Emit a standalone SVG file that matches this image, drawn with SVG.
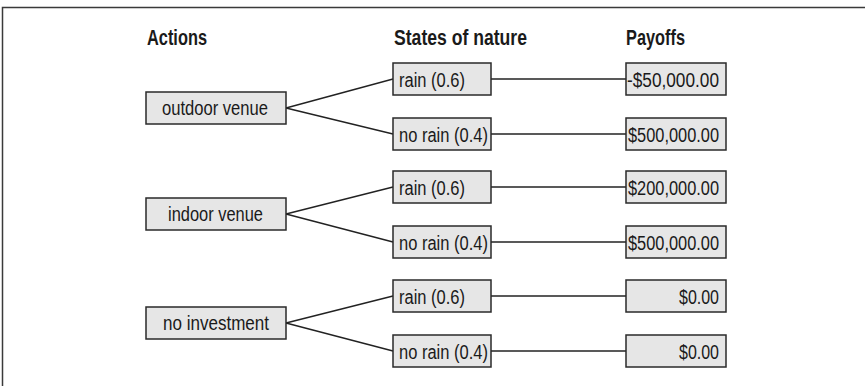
<svg xmlns="http://www.w3.org/2000/svg" width="865" height="386" viewBox="0 0 865 386">
<style>
.frame{fill:none;stroke:#3a3a3a;stroke-width:1.5}
.box{fill:#e6e6e6;stroke:#2a2a2a;stroke-width:1.5}
.conn line{stroke:#222;stroke-width:1.4}
.hdr{font-family:"Liberation Sans",Arial,sans-serif;font-weight:bold;font-size:22px;fill:#1a1a1a}
.t{font-family:"Liberation Sans",Arial,sans-serif;font-size:20px;fill:#1a1a1a}
.c{text-anchor:middle}
.r{text-anchor:end}
</style>
<rect width="865" height="386" fill="#fff"/>
<path class="frame" d="M2.5,386 V7.5 H865"/>
<g id="headers">
<text class="hdr" x="147" y="45" textLength="60" lengthAdjust="spacingAndGlyphs">Actions</text>
<text class="hdr" x="394" y="45" textLength="133" lengthAdjust="spacingAndGlyphs">States of nature</text>
<text class="hdr" x="626" y="45" textLength="59" lengthAdjust="spacingAndGlyphs">Payoffs</text>
</g>
<g class="conn" id="connectors">
<line x1="286" y1="108" x2="393" y2="79"/>
<line x1="286" y1="108" x2="393" y2="134"/>
<line x1="286" y1="214" x2="393" y2="187"/>
<line x1="286" y1="214" x2="393" y2="242"/>
<line x1="286" y1="323" x2="393" y2="296"/>
<line x1="286" y1="323" x2="393" y2="351"/>
<line x1="491" y1="79" x2="626" y2="79"/>
<line x1="491" y1="134" x2="626" y2="134"/>
<line x1="491" y1="187" x2="626" y2="187"/>
<line x1="491" y1="242" x2="626" y2="242"/>
<line x1="491" y1="296" x2="626" y2="296"/>
<line x1="491" y1="351" x2="626" y2="351"/>
</g>
<g id="a1"><rect class="box" x="146" y="92" width="140" height="32"/><text class="t c" x="215" y="115" textLength="106" lengthAdjust="spacingAndGlyphs">outdoor venue</text></g>
<g id="a2"><rect class="box" x="146" y="198" width="140" height="32"/><text class="t c" x="215.5" y="221" textLength="95" lengthAdjust="spacingAndGlyphs">indoor venue</text></g>
<g id="a3"><rect class="box" x="146" y="307" width="140" height="32"/><text class="t c" x="216" y="330" textLength="106" lengthAdjust="spacingAndGlyphs">no investment</text></g>
<g id="s1"><rect class="box" x="393" y="63" width="98" height="32"/><text class="t" x="399" y="87" textLength="66" lengthAdjust="spacingAndGlyphs">rain (0.6)</text></g>
<g id="s2"><rect class="box" x="393" y="118" width="98" height="32"/><text class="t" x="399" y="142" textLength="89" lengthAdjust="spacingAndGlyphs">no rain (0.4)</text></g>
<g id="s3"><rect class="box" x="393" y="171" width="98" height="32"/><text class="t" x="399" y="195" textLength="66" lengthAdjust="spacingAndGlyphs">rain (0.6)</text></g>
<g id="s4"><rect class="box" x="393" y="226" width="98" height="32"/><text class="t" x="399" y="250" textLength="89" lengthAdjust="spacingAndGlyphs">no rain (0.4)</text></g>
<g id="s5"><rect class="box" x="393" y="280" width="98" height="32"/><text class="t" x="399" y="304" textLength="66" lengthAdjust="spacingAndGlyphs">rain (0.6)</text></g>
<g id="s6"><rect class="box" x="393" y="335" width="98" height="32"/><text class="t" x="399" y="359" textLength="89" lengthAdjust="spacingAndGlyphs">no rain (0.4)</text></g>
<g id="p1"><rect class="box" x="626" y="63" width="100" height="32"/><text class="t r" x="719" y="87" textLength="92" lengthAdjust="spacingAndGlyphs">-$50,000.00</text></g>
<g id="p2"><rect class="box" x="626" y="118" width="100" height="32"/><text class="t r" x="719" y="142" textLength="91" lengthAdjust="spacingAndGlyphs">$500,000.00</text></g>
<g id="p3"><rect class="box" x="626" y="171" width="100" height="32"/><text class="t r" x="719" y="195" textLength="91" lengthAdjust="spacingAndGlyphs">$200,000.00</text></g>
<g id="p4"><rect class="box" x="626" y="226" width="100" height="32"/><text class="t r" x="719" y="250" textLength="91" lengthAdjust="spacingAndGlyphs">$500,000.00</text></g>
<g id="p5"><rect class="box" x="626" y="280" width="100" height="32"/><text class="t r" x="719" y="304" textLength="40" lengthAdjust="spacingAndGlyphs">$0.00</text></g>
<g id="p6"><rect class="box" x="626" y="335" width="100" height="32"/><text class="t r" x="719" y="359" textLength="40" lengthAdjust="spacingAndGlyphs">$0.00</text></g>
</svg>
